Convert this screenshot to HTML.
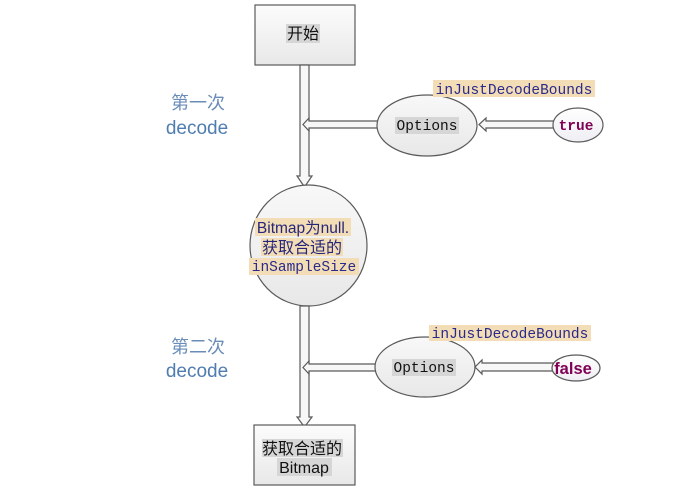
<!DOCTYPE html>
<html><head><meta charset="utf-8">
<style>
html,body{margin:0;padding:0;background:#fff;}
svg{display:block;}
</style></head>
<body>
<svg width="687" height="494" viewBox="0 0 687 494" xmlns="http://www.w3.org/2000/svg">
<defs>
<linearGradient id="box" x1="0" y1="0" x2="0" y2="1">
<stop offset="0" stop-color="#fcfcfc"/><stop offset="1" stop-color="#e8e8e8"/>
</linearGradient>
<linearGradient id="ell" x1="0" y1="0" x2="0" y2="1">
<stop offset="0" stop-color="#f8f8f8"/><stop offset="1" stop-color="#e8e8e8"/>
</linearGradient>
<linearGradient id="tr" x1="0" y1="0" x2="0" y2="1">
<stop offset="0" stop-color="#ffffff"/><stop offset="1" stop-color="#eeeef4"/>
</linearGradient>
</defs>
<g stroke="#5a5a5a" stroke-width="1.2">
<rect x="255" y="5" width="100" height="60" fill="url(#box)"/>
<polygon points="300,65 309,65 309,176 312,176 304.5,187 297,176 300,176" fill="#f7f7f7"/>
<polygon points="379,121 309,121 309,118 303,124.5 309,131 309,128 379,128" fill="#f7f7f7"/>
<ellipse cx="427" cy="125.5" rx="50" ry="30.5" fill="url(#ell)"/>
<polygon points="554,121 486,121 486,118 479,124.5 486,131 486,128 554,128" fill="#f7f7f7"/>
<ellipse cx="578" cy="125" rx="25" ry="17" fill="url(#tr)"/>
<ellipse cx="308.5" cy="245.5" rx="58.5" ry="60.5" fill="url(#ell)"/>
<polygon points="300,306 309,306 309,417 312,417 304.5,427 297,417 300,417" fill="#f7f7f7"/>
<polygon points="377,364 309,364 309,361 303,367.5 309,374 309,371 377,371" fill="#f7f7f7"/>
<ellipse cx="425" cy="367" rx="50" ry="30" fill="url(#ell)"/>
<polygon points="553,363 482,363 482,360 475,367 482,374 482,371 553,371" fill="#f7f7f7"/>
<ellipse cx="576" cy="368" rx="24" ry="13" fill="url(#tr)"/>
<rect x="254" y="425" width="101" height="60" fill="url(#box)"/>
</g>

<rect x="286" y="24" width="34" height="19" fill="#d6d6d6"/>
<rect x="395" y="117" width="64" height="17" fill="#d6d6d6"/>
<rect x="392" y="359" width="64" height="17" fill="#d6d6d6"/>
<rect x="433" y="80" width="162" height="17" fill="#f3ddb6"/>
<rect x="429" y="325" width="162" height="16" fill="#f3ddb6"/>
<rect x="255" y="218" width="96" height="18" fill="#f3ddb6"/>
<rect x="261" y="238" width="82" height="18" fill="#f3ddb6"/>
<rect x="249" y="258" width="110" height="17" fill="#f3ddb6"/>
<rect x="262" y="439" width="81" height="18" fill="#d6d6d6"/>
<rect x="277" y="458" width="55" height="18" fill="#d6d6d6"/>

<g font-family="'Liberation Sans','Noto Sans CJK SC',sans-serif" text-anchor="middle">
<text x="303" y="39" font-size="16" fill="#111">开始</text>
<text x="198" y="109" font-size="18" fill="#6a8db8">第一次</text>
<text x="197" y="134" font-size="19" fill="#4f7db0">decode</text>
<text x="198" y="353" font-size="18" fill="#6a8db8">第二次</text>
<text x="197" y="377" font-size="19" fill="#4f7db0">decode</text>
<text x="303" y="233" font-size="15.5" fill="#26267a">Bitmap为null.</text>
<text x="302" y="253" font-size="16" fill="#26267a">获取合适的</text>
<text x="302" y="454" font-size="16" fill="#111">获取合适的</text>
<text x="304" y="473" font-size="16" fill="#111">Bitmap</text>
<text x="573" y="374" font-size="16.5" font-weight="bold" fill="#7f0055">false</text>
</g>
<g font-family="'Liberation Mono',monospace" text-anchor="middle">
<text x="427" y="130" font-size="14.5" fill="#111">Options</text>
<text x="424" y="372" font-size="14.5" fill="#111">Options</text>
<text x="514" y="94" font-size="14.5" fill="#2a2a8c">inJustDecodeBounds</text>
<text x="510" y="338" font-size="14.5" fill="#2a2a8c">inJustDecodeBounds</text>
<text x="576" y="130" font-size="14.5" font-weight="bold" fill="#7f0055">true</text>
<text x="304" y="271" font-size="14.5" fill="#2a2a8c">inSampleSize</text>
</g>
</svg>
</body></html>
